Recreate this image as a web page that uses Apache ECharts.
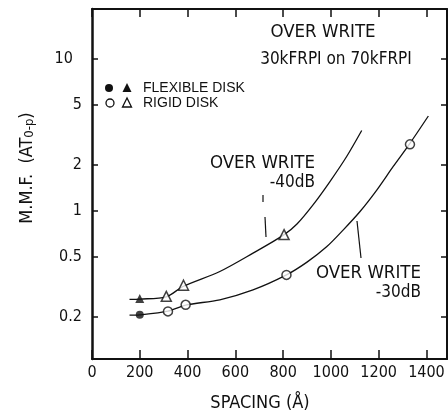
<!DOCTYPE html>
<html>
<head>
<meta charset="utf-8">
<script src="https://cdn.jsdelivr.net/npm/echarts@6/dist/echarts.min.js"></script>
<style>html,body{margin:0;padding:0;background:#fff}#c{width:448px;height:417px}</style>
</head>
<body>
<div id="c"></div>
<script>
// Data (spacing in Å, M.M.F. in AT0-p)
var xTicks = [0, 200, 400, 600, 800, 1000, 1200, 1400];
var yTicks = [0.2, 0.5, 1, 2, 5, 10];

// curves
var curve40 = [[157,0.262],[200,0.263],[311,0.272],[381,0.318],[535,0.399],[674,0.527],[803,0.695],[858,0.82],[926,1.10],[996,1.56],[1066,2.28],[1129,3.38]];
var curve30 = [[157,0.206],[200,0.207],[318,0.219],[392,0.240],[535,0.260],[674,0.302],[814,0.379],[900,0.46],[982,0.58],[1052,0.75],[1122,0.99],[1192,1.37],[1261,1.96],[1328,2.74],[1408,4.21]];

// measured points
var flexCircle = [[200,0.207]];
var rigidCircle = [[318,0.218],[392,0.241],[814,0.379],[1331,2.74]];
var flexTri = [[200,0.265]];
var rigidTri = [[311,0.274],[383,0.324],[804,0.698]];

var NARROW = '"Liberation Sans Narrow","DejaVu Sans Condensed",sans-serif';
var WIDE = '"Liberation Sans",Arial,sans-serif';
var chart = echarts.init(document.getElementById('c'), null, {renderer:'canvas'});
var black = '#111';

function txt(x, y, s, size, align, fam) {
  return {type:'text', x:x, y:y, style:{text:s, fill:black, font: size + 'px ' + (fam || NARROW), textAlign: align || 'center', textVerticalAlign:'middle'}};
}

chart.setOption({
  animation:false,
  backgroundColor:'#fff',
  grid:{left:92, top:9, right:1, bottom:58, show:false},
  xAxis:[{
    type:'value', min:0, max:1486, interval:200, position:'bottom',
    axisLine:{show:true, onZero:false, lineStyle:{color:black, width:2}},
    axisTick:{show:true, inside:true, length:9, lineStyle:{color:black, width:1.5}},
    axisLabel:{color:black, fontFamily:NARROW, fontSize:16, margin:6, showMaxLabel:false, formatter:function(v){return String(v);}},
    splitLine:{show:false}
  },{
    type:'value', min:0, max:1486, interval:200, position:'top',
    axisLine:{show:true, onZero:false, lineStyle:{color:black, width:2}},
    axisTick:{show:true, inside:true, length:8, lineStyle:{color:black, width:1.5}},
    axisLabel:{show:false}, splitLine:{show:false}
  }],
  yAxis:[{
    type:'log', min:0.106, max:21.3, position:'left',
    axisLine:{show:true, onZero:false, lineStyle:{color:black, width:2.5}},
    axisTick:{show:true, inside:true, length:6, lineStyle:{color:black, width:1.5}, customValues:yTicks},
    axisLabel:{color:black, fontFamily:NARROW, fontSize:16, margin:10, customValues:yTicks,
      formatter:function(v){ return v === 10 ? '10  ' : String(Math.round(v*10)/10); }},
    splitLine:{show:false}
  },{
    type:'log', min:0.106, max:21.3, position:'right',
    axisLine:{show:true, onZero:false, lineStyle:{color:black, width:2}},
    axisTick:{show:true, inside:true, length:6, lineStyle:{color:black, width:1.5}, customValues:yTicks},
    axisLabel:{show:false}, splitLine:{show:false}
  }],
  series:[
    {type:'line', data:curve40, smooth:0.3, showSymbol:false, symbol:'none', lineStyle:{color:black, width:1.3}, z:2},
    {type:'line', data:curve30, smooth:0.3, showSymbol:false, symbol:'none', lineStyle:{color:black, width:1.3}, z:2},
    {type:'scatter', data:flexCircle, symbol:'circle', symbolSize:8, itemStyle:{color:black}, z:5},
    {type:'scatter', data:rigidCircle, symbol:'circle', symbolSize:9, itemStyle:{color:'#fff', borderColor:black, borderWidth:1.5}, z:5},
    {type:'scatter', data:flexTri, symbol:'triangle', symbolSize:9, itemStyle:{color:black}, z:5},
    {type:'scatter', data:rigidTri, symbol:'triangle', symbolSize:10, itemStyle:{color:'#fff', borderColor:black, borderWidth:1.5}, z:5}
  ],
  graphic:[
    txt(323, 32, 'OVER WRITE', 18.5),
    txt(336, 60, '30kFRPI on 70kFRPI', 17),
    txt(315, 163, 'OVER WRITE', 18.5, 'right'),
    txt(315, 183, '-40dB', 17, 'right'),
    txt(421, 273, 'OVER WRITE', 18.5, 'right'),
    txt(421, 293, '-30dB', 17, 'right'),
    txt(260, 403, 'SPACING (Å)', 18),
    {type:'text', x:25, y:168, rotation:Math.PI/2,
      style:{text:'{a|M.M.F.  (AT}{s|0-p}{a|)}', fill:black, align:'center', verticalAlign:'middle',
        rich:{a:{fontSize:18, fontFamily:NARROW, fill:black, lineHeight:22, verticalAlign:'bottom'},
              s:{fontSize:13, fontFamily:NARROW, fill:black, lineHeight:22, verticalAlign:'bottom', padding:[7,0,0,0]}}}},
    {type:'circle', shape:{cx:109, cy:88, r:4}, style:{fill:black}},
    {type:'polygon', shape:{points:[[127,83],[122.5,92],[131.5,92]]}, style:{fill:black}},
    {type:'circle', shape:{cx:110, cy:103, r:4}, style:{fill:'#fff', stroke:black, lineWidth:1.3}},
    {type:'polygon', shape:{points:[[127,98],[122.5,107],[131.5,107]]}, style:{fill:'#fff', stroke:black, lineWidth:1.3}},
    txt(143, 88, 'FLEXIBLE DISK', 14, 'left', WIDE),
    txt(143, 103, 'RIGID DISK', 14, 'left', WIDE),
    {type:'line', shape:{x1:263, y1:195, x2:263, y2:202}, style:{stroke:black, lineWidth:1.2}},
    {type:'line', shape:{x1:265, y1:217, x2:266, y2:237}, style:{stroke:black, lineWidth:1.2}},
    {type:'line', shape:{x1:357, y1:221, x2:361, y2:258}, style:{stroke:black, lineWidth:1.2}}
  ]
});
</script>
</body>
</html>
